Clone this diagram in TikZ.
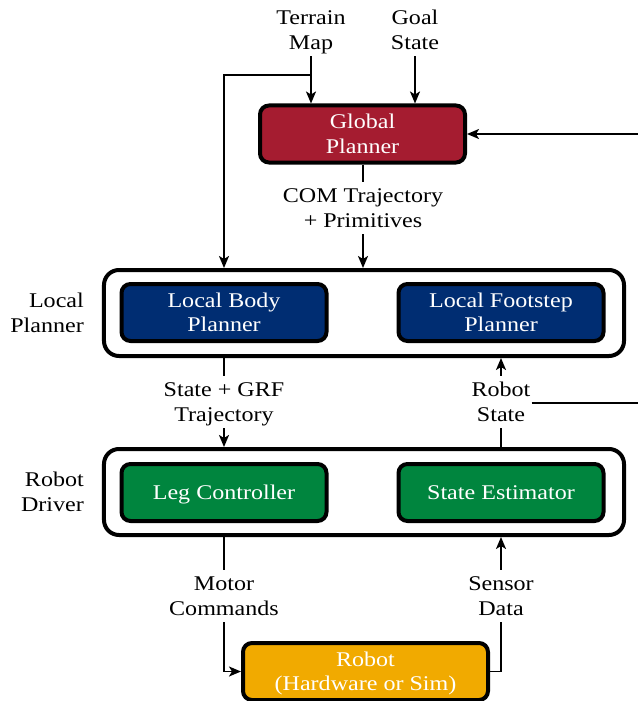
\documentclass[tikz,border=0pt]{standalone}
\usepackage{fontspec}
\setmainfont{Liberation Serif}
\usetikzlibrary{arrows.meta,calc}
\definecolor{gpred}{RGB}{165,28,48}
\definecolor{lpblue}{RGB}{0,45,114}
\definecolor{rdgreen}{RGB}{0,133,62}
\definecolor{rborange}{RGB}{241,170,0}
\newcommand{\sx}[1]{\raisebox{-2bp}[\height][\depth]{\scalebox{1.15}[1]{\begin{tabular}{@{}c@{}}#1\end{tabular}}}}
\newcommand{\sxr}[1]{\raisebox{-2bp}[\height][\depth]{\scalebox{1.15}[1]{\begin{tabular}{@{}r@{}}#1\end{tabular}}}}
\begin{document}
\begin{tikzpicture}[x=1bp,y=1bp,
  txtfont/.style={font=\fontsize{21}{25}\selectfont},
  box/.style={draw=black, line width=4bp, rounded corners=9bp, text=white, txtfont,
    minimum width=205bp, minimum height=57bp, inner sep=0pt},
  outerbox/.style={draw=black, line width=4bp, rounded corners=15bp, fill=white,
    minimum width=520bp, minimum height=86bp, inner sep=0pt},
  lbl/.style={fill=white, inner sep=1bp, txtfont},
  plain/.style={line width=1.8bp},
  conn/.style={line width=1.8bp, -{Stealth[length=12bp,width=10bp,inset=3bp]}}]
\path[use as bounding box] (0,0) rectangle (638,-701);

% boxes
\node[box, fill=gpred] (gp) at (362.5,-134) {\sx{Global\\Planner}};
\node[outerbox] (lp) at (364,-313) {};
\node[box, fill=lpblue] (lbp) at (224,-312.5) {\sx{Local Body\\Planner}};
\node[box, fill=lpblue] (lfp) at (501,-312.5) {\sx{Local Footstep\\Planner}};
\node[outerbox] (rd) at (364,-492) {};
\node[box, fill=rdgreen] (lc) at (224,-492.5) {\sx{Leg Controller}};
\node[box, fill=rdgreen] (se) at (501,-492.5) {\sx{State Estimator}};
\node[box, fill=rborange, minimum width=245bp] (robot) at (365.5,-671.5) {\sx{Robot\\(Hardware or Sim)}};

% side labels
\node[txtfont, anchor=east, inner sep=0pt] (lplbl) at (84,-313) {\sxr{Local\\Planner}};
\node[txtfont, anchor=east, inner sep=0pt] (rdlbl) at (84,-492) {\sxr{Robot\\Driver}};

% inputs
\node[lbl] (terrain) at (311,-30) {\sx{Terrain\\Map}};
\node[lbl] (goal) at (415,-30) {\sx{Goal\\State}};
\draw[conn] (terrain.south) -- (terrain.south |- gp.north);
\draw[conn] (goal.south) -- (goal.south |- gp.north);
\coordinate (br) at (311,-75);
\draw[conn] (br) -| (lbp.north |- lp.north);

% feedback into global planner
\coordinate (fb) at (638,-134);
\draw[conn] (fb) -- (gp.east |- fb);

% COM trajectory
\node[lbl] (com) at (363,-208) {\sx{COM Trajectory\\+ Primitives}};
\draw[plain] (gp.south -| com) -- (com.north);
\draw[conn] (com.south) -- (com.south |- lp.north);

% State + GRF
\node[lbl] (sg) at (224,-402) {\sx{State + GRF\\Trajectory}};
\draw[plain] (lp.south -| sg) -- (sg.north);
\draw[conn] (sg.south) -- (sg.south |- rd.north);

% Robot state
\node[lbl] (rs) at (501,-402) {\sx{Robot\\State}};
\draw[plain] (rd.north -| rs) -- (rs.south);
\draw[conn] (rs.north) -- (rs.north |- lp.south);
\coordinate (rsr) at (638,-403);
\draw[plain] (rs.east |- rsr) -- (rsr);

% Motor commands
\node[lbl] (mc) at (224,-596) {\sx{Motor\\Commands}};
\draw[plain] (rd.south -| mc) -- (mc.north);
\draw[conn] (mc.south) |- (robot.west);

% Sensor data
\node[lbl] (sd) at (501,-596) {\sx{Sensor\\Data}};
\draw[plain] (robot.east) -| (sd.south);
\draw[conn] (sd.north) -- (sd.north |- rd.south);
\end{tikzpicture}
\end{document}
